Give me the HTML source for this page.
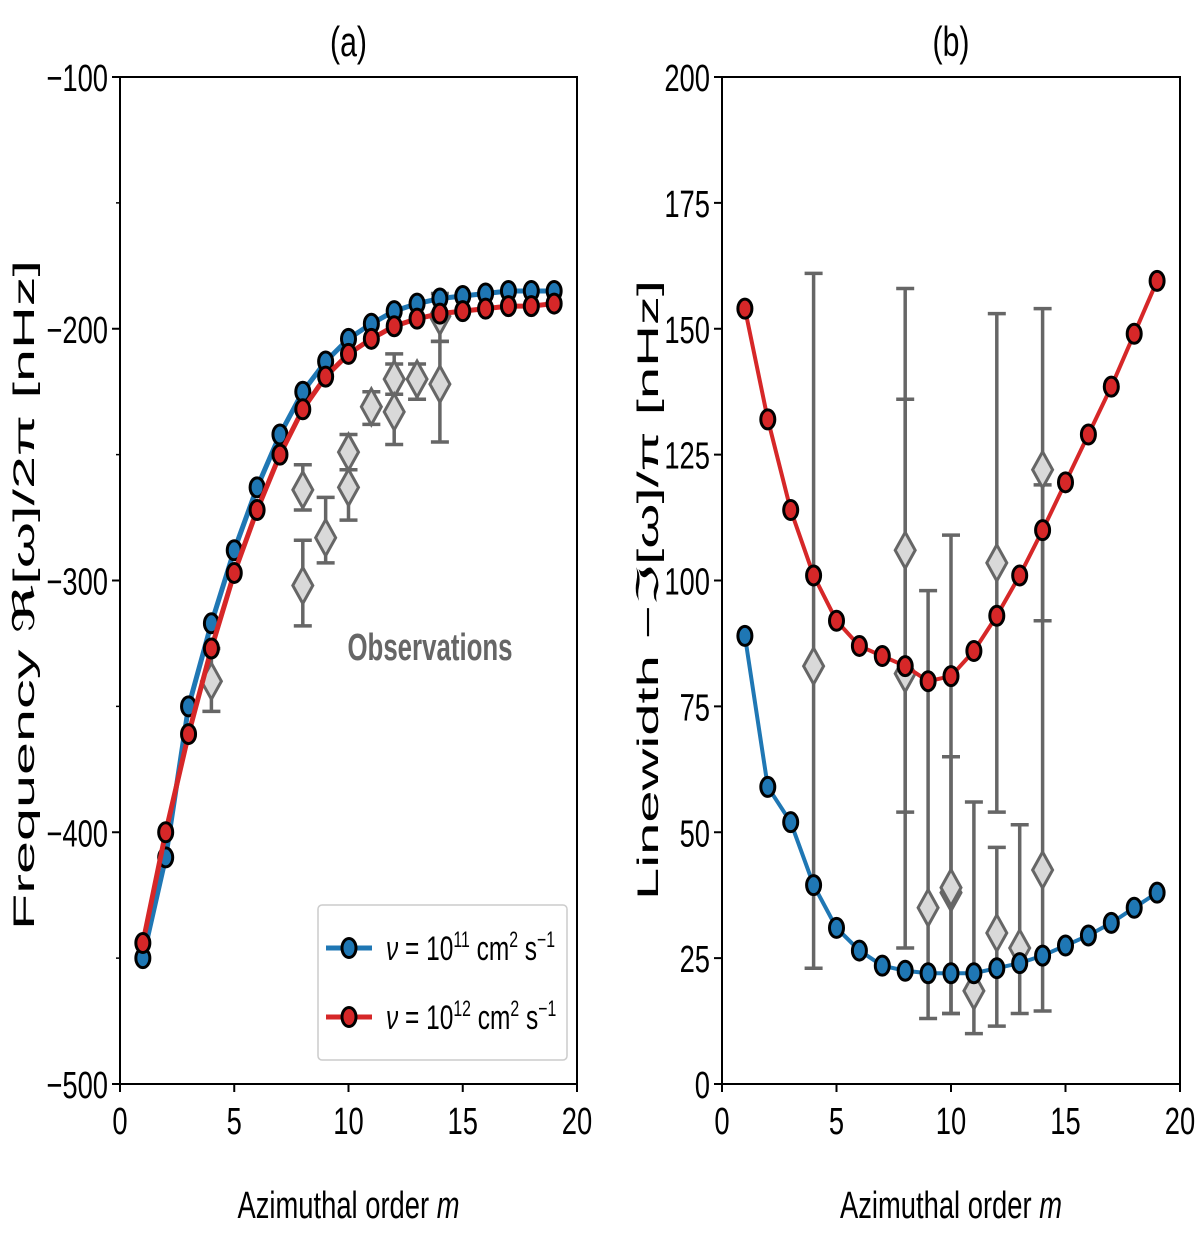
<!DOCTYPE html>
<html><head><meta charset="utf-8"><style>
html,body{margin:0;padding:0;background:#fff;}
svg{display:block;font-family:"Liberation Sans",sans-serif;}
</style></head><body>
<svg id="chart" width="1200" height="1233" viewBox="0 0 1200 1233"></svg>
<script>
const mValues = [1,2,3,4,5,6,7,8,9,10,11,12,13,14,15,16,17,18,19];
const freqBlue = [-450,-410,-350,-317,-288,-263,-242,-225,-213,-204,-198,-193,-190,-188,-187,-186,-185,-185,-185];
const freqRed = [-444,-400,-361,-327,-297,-272,-250,-232,-219,-210,-204,-199,-196,-194,-193,-192,-191,-191,-190];
const freqObsM = [4,8,8,9,10,10,11,12,12,13,14,14];
const freqObsVal = [-340,-264,-302,-283,-249,-263,-231,-220,-233,-220,-195,-222];
const freqObsLo = [-352,-272,-318,-293,-256,-276,-238,-226,-246,-228,-205,-245];
const freqObsHi = [-327,-254,-284,-267,-242,-256,-225,-210,-214,-214,-186,-205];
const widthBlue = [89,59,52,39.5,31,26.5,23.5,22.5,22,22,22,23,24,25.5,27.5,29.5,32,35,38];
const widthRed = [154,132,114,101,92,87,85,83,80,81,86,93,101,110,119.5,129,138.5,149,159.5];
const widthObsM = [4,8,8,9,10,10,11,12,12,13,14,14];
const widthObsVal = [83,106,81.5,35,38,39,18.5,103.5,30,27,122,42.5];
const widthObsLo = [23,54,27,13,14,14,10,54,11.5,14,92,14.5];
const widthObsHi = [161,158,136,98,109,65,56,153,47,51.5,154,119];
const xTicks = [0,5,10,15,20];
const freqTicks = [-100,-200,-300,-400,-500];
const widthTicks = [0,25,50,75,100,125,150,175,200];

const NS="http://www.w3.org/2000/svg";
const svg=document.getElementById('chart');
function el(tag,attrs,parent){const e=document.createElementNS(NS,tag);for(const k in attrs)e.setAttribute(k,attrs[k]);(parent||svg).appendChild(e);return e;}
function txt(s,x,y,size,anchor,parent,extra){const t=el('text',Object.assign({x:x,y:y,'font-size':size,'text-anchor':anchor,fill:'#000'},extra||{}),parent);t.textContent=s;return t;}

function panel(cfg){
  const g=el('g',{});
  
  
  const L=cfg.left,R=cfg.right,T=77,B=1084;
  const X=v=>L+(v-0)/20*(R-L);
  const Y=v=>B-(v-cfg.ymin)/(cfg.ymax-cfg.ymin)*(B-T);
  const og=el('g',{},g);
  
  
  for(let i=0;i<cfg.om.length;i++){
    const x=X(cfg.om[i]);
    el('line',{x1:x,x2:x,y1:Y(cfg.olo[i]),y2:Y(cfg.ohi[i]),stroke:'#666',"stroke-width":3.5},og);
    [cfg.olo[i],cfg.ohi[i]].forEach(v=>el('line',{x1:x-9,x2:x+9,y1:Y(v),y2:Y(v),stroke:'#666',"stroke-width":3.5},og));
  }
  function series(vals,color,name){
    const sg=el('g',{},g);
    
    
    const pts=mValues.map((m,i)=>X(m)+','+Y(vals[i])).join(' ');
    el('polyline',{points:pts,fill:'none',stroke:color,'stroke-width':cfg.lw,'stroke-linejoin':'round'},sg);
    mValues.forEach((m,i)=>{const c=el('ellipse',{cx:X(m),cy:Y(vals[i]),rx:7,ry:9.5,fill:color,stroke:'#000','stroke-width':3},sg);
      });
  }
  series(cfg.blue,'#1f77b4','series-nu-1e11');
  series(cfg.red,'#d62728','series-nu-1e12');
  for(let i=0;i<cfg.om.length;i++){
    const x=X(cfg.om[i]),y=Y(cfg.ov[i]);
    const d=el('polygon',{points:`${x},${y-18} ${x+10},${y} ${x},${y+18} ${x-10},${y}`,fill:'#d9d9d9',stroke:'#666','stroke-width':3},og);
    
  }
  el('rect',{x:L,y:T,width:R-L,height:B-T,fill:'none',stroke:'#000','stroke-width':2},g);
  const xa=el('g',{},g);
  xTicks.forEach(t=>{el('line',{x1:X(t),x2:X(t),y1:B,y2:B+8,stroke:'#000','stroke-width':2},xa);
    txt(String(t),0,0,38,'middle',xa,{transform:`translate(${X(t)},${B+50}) scale(0.72,1)`});});
  const ya=el('g',{},g);
  cfg.yticks.forEach(t=>{el('line',{x1:L-8,x2:L,y1:Y(t),y2:Y(t),stroke:'#000','stroke-width':2},ya);
    txt(String(t).replace('-','\u2212'),0,0,38,'end',ya,{transform:`translate(${L-12},${Y(t)+14}) scale(0.72,1)`});});
  (cfg.minor||[]).forEach(t=>el('line',{x1:L-4,x2:L,y1:Y(t),y2:Y(t),stroke:'#000','stroke-width':1.5},ya));
  const xt=txt('Azimuthal order ',0,0,38,'middle',g,{transform:`translate(${(L+R)/2},${1218}) scale(0.72,1)`});
  
  const ts=document.createElementNS(NS,'tspan');ts.setAttribute('font-style','italic');ts.textContent='m';xt.appendChild(ts);
  const yt=txt(cfg.ylabel,0,0,30,'middle',g,{transform:`translate(${cfg.ylx},${cfg.lyc}) rotate(-90)`,textLength:cfg.ylen,lengthAdjust:'spacingAndGlyphs'});
  
  const pt=txt(cfg.title,0,0,42,'middle',g,{transform:`translate(${(L+R)/2},${56}) scale(0.72,1)`});
  
  return {X,Y,g};
}
const a=panel({name:'panel-a-frequency',left:120,right:577,ymin:-500,ymax:-100,yticks:freqTicks,minor:[-150,-250,-350,-450],
  blue:freqBlue,red:freqRed,om:freqObsM,ov:freqObsVal,olo:freqObsLo,ohi:freqObsHi,lw:5,
  ylabel:'Frequency \u211C[\u03C9]/2\u03C0 [nHz]',ylx:34,lyc:595,ylen:670,title:'(a)'});
const b=panel({name:'panel-b-linewidth',left:722,right:1180,ymin:0,ymax:200,yticks:widthTicks,
  blue:widthBlue,red:widthRed,om:widthObsM,ov:widthObsVal,olo:widthObsLo,ohi:widthObsHi,lw:4,
  ylabel:'Linewidth \u2212\u2111[\u03C9]/\u03C0 [nHz]',ylx:658,lyc:590,ylen:620,title:'(b)'});
const ob=txt('Observations',0,0,38,'middle',a.g,{transform:'translate(430,660) scale(0.68,1)','font-weight':'bold',fill:'#666'});

const lg=el('g',{});
el('rect',{x:318,y:905,width:249,height:155,rx:4,fill:'#fff',stroke:'#ccc','stroke-width':1.5},lg);
[['#1f77b4','11',948],['#d62728','12',1017]].forEach(([c,e,y])=>{
  const en=el('g',{},lg);
  el('line',{x1:326,x2:372,y1:y,y2:y,stroke:c,'stroke-width':5},en);
  el('ellipse',{cx:349,cy:y,rx:7,ry:9.5,fill:c,stroke:'#000','stroke-width':3},en);
  const t=txt('',0,0,34,'start',en,{transform:`translate(386,${y+12}) scale(0.72,1)`});
  t.innerHTML='<tspan font-style="italic">\u03BD</tspan> = 10<tspan dy="-13" font-size="22">'+e+'</tspan><tspan dy="13"> cm</tspan><tspan dy="-13" font-size="22">2</tspan><tspan dy="13"> s</tspan><tspan dy="-13" font-size="22">\u22121</tspan>';
});
</script>
</body></html>
